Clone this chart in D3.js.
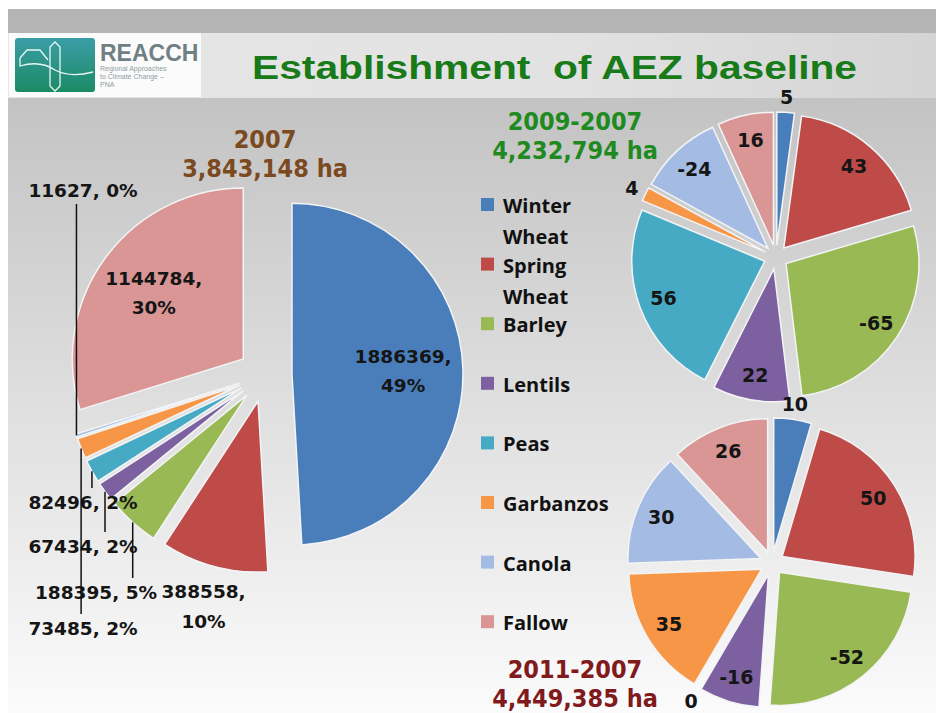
<!DOCTYPE html>
<html>
<head>
<meta charset="utf-8">
<script src="https://cdn.jsdelivr.net/npm/d3@7"></script>
<style>
  body { margin: 0; background: #fff; }
  svg { display: block; }
  text { white-space: pre; }
</style>
</head>
<body>
<svg id="chart" width="936" height="713"></svg>
<script>
(function(){
const width = 936;
const height = 713;

// --- Data ---
const categories = ["Winter Wheat", "Spring Wheat", "Barley", "Lentils", "Peas", "Garbanzos", "Canola", "Fallow"];
const colors = ["#4a7ebb", "#be4b48", "#98b954", "#7d60a0", "#46aac5", "#f79646", "#a4bce3", "#d99694"];

// 2007 area (ha) per crop
const area2007 = [1886369, 388558, 188395, 67434, 82496, 73485, 11627, 1144784];
// change vs 2007
const change2009 = [5, 43, -65, 22, 56, 4, -24, 16];
const change2011 = [10, 50, -52, -16, 0, 35, 30, 26];

const pieTitles = ["2007", "2009-2007", "2011-2007"];
const pieTotals = [3843148, 4232794, 4449385];
const mainTitle = "Establishment  of AEZ baseline";

const svg = d3.select("#chart");
const fmt = d3.format(",");

// --- Background ---
const defs = svg.append("defs");
const bodyGrad = defs.append("linearGradient").attr("id", "bodyGrad")
  .attr("x1", 0).attr("y1", 0).attr("x2", 0).attr("y2", 1);
bodyGrad.append("stop").attr("offset", 0).attr("stop-color", "#c3c3c3");
bodyGrad.append("stop").attr("offset", 0.45).attr("stop-color", "#dcdcdc");
bodyGrad.append("stop").attr("offset", 1).attr("stop-color", "#fbfbfb");

const headGrad = defs.append("linearGradient").attr("id", "headGrad")
  .attr("x1", 0).attr("y1", 0).attr("x2", 1).attr("y2", 0);
headGrad.append("stop").attr("offset", 0).attr("stop-color", "#e6e6e6");
headGrad.append("stop").attr("offset", 0.6).attr("stop-color", "#e2e2e2");
headGrad.append("stop").attr("offset", 1).attr("stop-color", "#d4d4d4");

const logoGrad = defs.append("linearGradient").attr("id", "logoGrad")
  .attr("x1", 0).attr("y1", 0).attr("x2", 0).attr("y2", 1);
logoGrad.append("stop").attr("offset", 0).attr("stop-color", "#3a9ea6");
logoGrad.append("stop").attr("offset", 1).attr("stop-color", "#1c8a66");

svg.append("rect").attr("width", width).attr("height", height).attr("fill", "#fff");
svg.append("rect").attr("x", 8).attr("y", 98).attr("width", width - 8).attr("height", height - 98)
  .attr("fill", "url(#bodyGrad)");
svg.append("rect").attr("x", 8).attr("y", 9).attr("width", width - 8).attr("height", 24)
  .attr("fill", "#b4b4b4");
svg.append("rect").attr("x", 8).attr("y", 33).attr("width", width - 8).attr("height", 65)
  .attr("fill", "url(#headGrad)");

// --- Logo ---
const logo = svg.append("g");
logo.append("rect").attr("x", 9).attr("y", 33).attr("width", 192).attr("height", 64).attr("fill", "#fbfbfb");
logo.append("rect").attr("x", 15).attr("y", 38).attr("width", 80).attr("height", 54).attr("rx", 3)
  .attr("fill", "url(#logoGrad)");
logo.append("path")
  .attr("d", "M20,58 L27,50 L40,50 L48,60 M20,58 L20,66 Q40,60 55,70 Q70,78 93,72 M55,42 L60,47 L60,86 L55,91 L50,86 L50,47 Z")
  .attr("fill", "none").attr("stroke", "#e8f6f4").attr("stroke-width", 1.3);
logo.append("text").attr("x", 100).attr("y", 61).text("REACCH")
  .attr("font-family", "Liberation Sans, Arial, sans-serif").attr("font-weight", "bold")
  .attr("font-size", 23).attr("fill", "#6f7f86");
["Regional Approaches", "to Climate Change –", "PNA"].forEach((t, i) => {
  logo.append("text").attr("x", 100).attr("y", 71 + i * 8).text(t)
    .attr("font-family", "Liberation Sans, Arial, sans-serif")
    .attr("font-size", 7).attr("fill", "#8e9ca2");
});

// --- Title ---
svg.append("text")
  .attr("x", 252).attr("y", 79)
  .attr("textLength", 605).attr("lengthAdjust", "spacingAndGlyphs")
  .attr("font-family", "Liberation Sans, Arial, sans-serif")
  .attr("font-weight", "bold").attr("font-size", 34)
  .attr("fill", "#187a18")
  .text(mainTitle);

// --- Pie helper ---
const labelFont = "DejaVu Sans, Verdana, sans-serif";

function drawPie(values, cx, cy, r, e) {
  const g = svg.append("g");
  const arcs = d3.pie().sort(null).value(d => Math.abs(d))(values);
  const arc = d3.arc().innerRadius(0).outerRadius(r);
  arcs.forEach((a, i) => {
    a.i = i;
    a.mid = (a.startAngle + a.endAngle) / 2;
    a.ox = cx + e * Math.sin(a.mid);
    a.oy = cy - e * Math.cos(a.mid);
    a.at = rr => [a.ox + rr * Math.sin(a.mid), a.oy - rr * Math.cos(a.mid)];
  });
  g.selectAll("path")
    .data(arcs.filter(a => a.endAngle > a.startAngle))
    .join("path")
    .attr("transform", a => `translate(${a.ox},${a.oy})`)
    .attr("d", arc)
    .attr("fill", a => colors[a.i])
    .attr("stroke", "#f3f4f6")
    .attr("stroke-width", 1.5);
  return { g, arcs };
}

function multiLine(g, x, y, lines, size, lineH) {
  const t = g.append("text")
    .attr("x", x).attr("y", y)
    .attr("text-anchor", "middle")
    .attr("font-family", labelFont).attr("font-weight", "bold")
    .attr("font-size", size).attr("fill", "#151515");
  const y0 = y - (lines.length - 1) * lineH / 2;
  lines.forEach((l, k) => {
    t.append("tspan").attr("x", x).attr("y", y0 + k * lineH).attr("dy", "0.36em").text(l);
  });
  return t;
}

function pieTitle(x, y, k, color) {
  [pieTitles[k], fmt(pieTotals[k]) + " ha"].forEach((t, j) => {
    svg.append("text")
      .attr("x", x).attr("y", y + j * 29).attr("dy", "0.36em")
      .attr("text-anchor", "middle")
      .attr("font-family", "DejaVu Sans Condensed, DejaVu Sans, sans-serif")
      .attr("font-weight", "bold").attr("font-size", 25)
      .attr("fill", color).text(t);
  });
}

// --- Left pie: 2007 ---
const total2007 = d3.sum(area2007);
const left = drawPie(area2007, 265, 375, 171, 27);
const pctText = v => Math.round(v / total2007 * 100) + "%";

// outside label spots for the thin slices (label centre)
const leftCallouts = { 2: [96, 592], 3: [83, 546], 4: [83, 502], 5: [83, 628], 6: [83, 190] };

left.arcs.forEach(a => {
  const v = area2007[a.i];
  if (leftCallouts[a.i]) {
    const [lx, ly] = leftCallouts[a.i];
    const [px, py] = a.at(171);
    const endY = ly > py ? ly - 14 : ly + 14;
    left.g.append("line")
      .attr("x1", px).attr("y1", py).attr("x2", px).attr("y2", endY)
      .attr("stroke", "#111").attr("stroke-width", 1.5);
    multiLine(left.g, lx, ly, [v + ", " + pctText(v)], 18.5, 0);
  } else if (a.endAngle - a.startAngle > 1) {
    const [lx, ly] = a.at(171 * 0.65);
    multiLine(left.g, lx, ly, [v + ",", pctText(v)], 18.5, 29);
  } else {
    const [lx, ly] = a.at(171 * 1.24);
    multiLine(left.g, lx, ly, [v + ",", pctText(v)], 18.5, 30);
  }
});
pieTitle(265, 139, 0, "#7b4a1f");

// --- Right pies ---
function changePie(values, cx, cy) {
  const p = drawPie(values, cx, cy, 133, 12);
  p.arcs.forEach(a => {
    const small = (a.endAngle - a.startAngle) < 0.35;
    const [lx, ly] = a.at(small ? 148 : 108);
    multiLine(p.g, lx, ly, [String(values[a.i])], 19, 0);
  });
}
changePie(change2009, 776, 257);
changePie(change2011, 772, 563);
pieTitle(575, 121, 1, "#1f8a1f");
pieTitle(575, 669, 2, "#801a1c");

// --- Legend ---
const legend = svg.append("g");
categories.forEach((c, i) => {
  const top = 198 + i * 59.6;
  legend.append("rect")
    .attr("x", 481).attr("y", top).attr("width", 13).attr("height", 13)
    .attr("fill", colors[i]);
  const t = legend.append("text")
    .attr("font-family", "Open Sans, sans-serif").attr("font-weight", "bold")
    .attr("font-size", 20).attr("fill", "#111");
  c.split(" ").forEach((w, k) => {
    t.append("tspan").attr("x", 503).attr("y", top + 15 + k * 31).text(w);
  });
});
})();
</script>
</body>
</html>
